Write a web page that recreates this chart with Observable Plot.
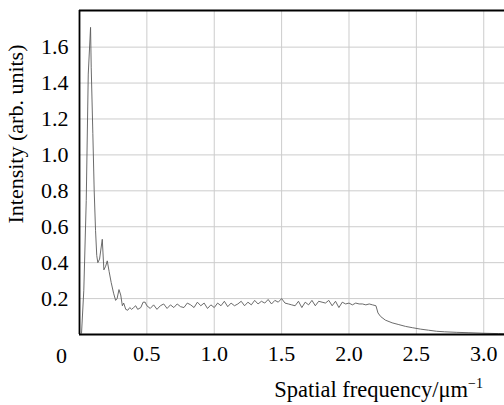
<!DOCTYPE html>
<html>
<head>
<meta charset="utf-8">
<script src="https://cdn.jsdelivr.net/npm/d3@7"></script>
<script src="https://cdn.jsdelivr.net/npm/@observablehq/plot@0.6"></script>
<style>
  html, body { margin: 0; padding: 0; background: #fff; }
</style>
</head>
<body>
<div id="chart"></div>
<script>
// Spatial frequency (µm^-1)
const freq = [
  0.015, 0.032, 0.050, 0.065, 0.082, 0.087, 0.099, 0.109, 0.119, 0.128, 0.136, 0.149,
  0.169, 0.181, 0.194, 0.206, 0.220, 0.235, 0.253, 0.268, 0.279, 0.293, 0.306, 0.318,
  0.328, 0.343, 0.358, 0.373, 0.387, 0.402, 0.417, 0.432, 0.455, 0.472, 0.487,
  0.500, 0.525, 0.550, 0.575, 0.600, 0.625, 0.650, 0.675, 0.700, 0.725, 0.750, 0.775,
  0.800, 0.825, 0.850, 0.875, 0.900, 0.925, 0.950, 0.975, 1.000, 1.025, 1.050, 1.075,
  1.100, 1.125, 1.150, 1.175, 1.200, 1.225, 1.250, 1.275, 1.300, 1.325, 1.350, 1.375,
  1.400, 1.425, 1.450, 1.475, 1.500, 1.525, 1.550, 1.575, 1.600, 1.625, 1.650, 1.675,
  1.700, 1.725, 1.750, 1.775, 1.800, 1.825, 1.850, 1.875, 1.900, 1.925, 1.950, 1.975,
  2.000, 2.025, 2.050, 2.075, 2.100, 2.125, 2.150, 2.175, 2.200,
  2.215, 2.235, 2.270, 2.320, 2.370, 2.420, 2.470, 2.530, 2.590, 2.650, 2.710, 2.800,
  2.890, 3.000, 3.110, 3.150
];
// Intensity (arb. units)
const intensity = [
  0.007, 0.246, 0.746, 1.450, 1.710, 1.485, 1.120, 0.800, 0.580, 0.440, 0.400, 0.420,
  0.530, 0.360, 0.380, 0.410, 0.350, 0.290, 0.230, 0.190, 0.200, 0.250, 0.220, 0.160,
  0.175, 0.140, 0.135, 0.150, 0.140, 0.150, 0.160, 0.140, 0.150, 0.180, 0.180,
  0.160, 0.145, 0.165, 0.140, 0.160, 0.170, 0.145, 0.165, 0.150, 0.170, 0.155, 0.150,
  0.175, 0.165, 0.150, 0.180, 0.160, 0.175, 0.145, 0.165, 0.150, 0.175, 0.160, 0.185,
  0.155, 0.175, 0.160, 0.170, 0.185, 0.160, 0.180, 0.165, 0.190, 0.170, 0.185, 0.175,
  0.195, 0.170, 0.190, 0.180, 0.200, 0.175, 0.170, 0.165, 0.160, 0.185, 0.150, 0.180,
  0.165, 0.190, 0.160, 0.185, 0.180, 0.175, 0.190, 0.160, 0.185, 0.150, 0.180, 0.170,
  0.175, 0.165, 0.175, 0.170, 0.170, 0.165, 0.170, 0.165, 0.160,
  0.120, 0.100, 0.080, 0.065, 0.055, 0.045, 0.038, 0.030, 0.024, 0.018, 0.015, 0.012,
  0.010, 0.007, 0.005, 0.004
];
const xTicks = [0.5, 1.0, 1.5, 2.0, 2.5, 3.0];
const yTicks = [0.2, 0.4, 0.6, 0.8, 1.0, 1.2, 1.4, 1.6];
const xDomain = [0, 3.154];
const yDomain = [0, 1.804];
const xLabel = "Spatial frequency/\u03BCm";
const xLabelSup = "\u22121";
const yLabel = "Intensity (arb. units)";
const originLabel = "0";

const data = freq.map((f, i) => ({f, v: intensity[i]}));
const FONT = "'Liberation Serif', 'Times New Roman', serif";

const chart = Plot.plot({
  width: 504,
  height: 405,
  marginLeft: 79,
  marginRight: 0,
  marginTop: 10,
  marginBottom: 71,
  style: {fontFamily: FONT, fontSize: "22px", background: "#fff", color: "#000"},
  x: {domain: xDomain},
  y: {domain: yDomain},
  marks: [
    Plot.gridX(xTicks, {stroke: "#cccccc", strokeOpacity: 1, strokeWidth: 1}),
    Plot.gridY(yTicks, {stroke: "#cccccc", strokeOpacity: 1, strokeWidth: 1}),
    Plot.line(data, {x: "f", y: "v", stroke: "#5a5a5a", strokeWidth: 0.9}),
    Plot.ruleX([xDomain[0]], {stroke: "#000", strokeWidth: 1.8}),
    Plot.ruleY([yDomain[0]], {stroke: "#000", strokeWidth: 1.8}),
    Plot.ruleY([yDomain[1]], {stroke: "#000", strokeWidth: 1.8}),
    Plot.axisX(xTicks, {tickSize: 0, tickPadding: 11, fill: "#000", label: null, tickFormat: d => d.toFixed(1)}),
    Plot.axisY(yTicks, {tickSize: 0, tickPadding: 11, fill: "#000", label: null, tickFormat: d => d.toFixed(1)}),
    Plot.text([originLabel], {x: xDomain[0], y: yDomain[0], text: d => d, dx: -18, dy: 21, fill: "#000"})
  ]
});

const svg = d3.select(chart);
// enforce serif font on all Plot-generated texts
svg.selectAll("g[aria-label] text, g[aria-label]")
  .style("font-family", FONT)
  .style("font-size", "22px")
  .style("font-variant", "normal");

const xl = svg.append("text")
  .attr("x", 483)
  .attr("y", 397)
  .attr("text-anchor", "end")
  .style("font-family", FONT)
  .style("font-size", "22.5px")
  .attr("fill", "#000");
xl.append("tspan").text(xLabel);
xl.append("tspan").style("font-size", "14px").attr("dy", -9).text(xLabelSup);

svg.append("text")
  .attr("transform", "translate(23,134) rotate(-90)")
  .attr("text-anchor", "middle")
  .style("font-family", FONT)
  .style("font-size", "22px")
  .attr("fill", "#000")
  .text(yLabel);

document.getElementById("chart").appendChild(chart);
</script>
</body>
</html>
